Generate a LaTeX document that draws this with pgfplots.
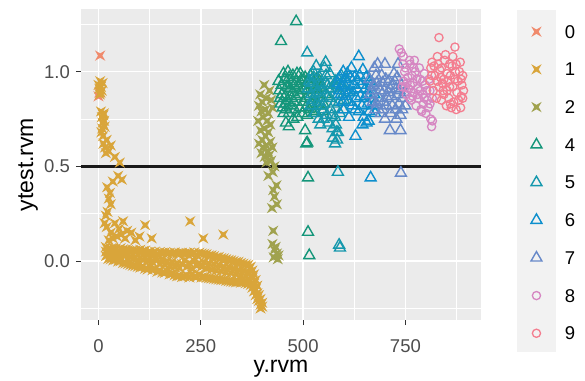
\documentclass[border=0pt]{standalone}
\usepackage{fontspec}
\setmainfont{Liberation Sans}
\usepackage{pgfplots}
\pgfplotsset{compat=1.18}
\definecolor{cA}{HTML}{F08A6C}
\definecolor{cB}{HTML}{D9A53A}
\definecolor{cC}{HTML}{A0A24E}
\definecolor{cE}{HTML}{14967A}
\definecolor{cF}{HTML}{1598AD}
\definecolor{cG}{HTML}{0D8FCD}
\definecolor{cH}{HTML}{6789C9}
\definecolor{cI}{HTML}{D686C2}
\definecolor{cJ}{HTML}{F47D8F}
\definecolor{panel}{HTML}{EBEBEB}
\definecolor{keybg}{HTML}{F2F2F2}
\definecolor{tickcol}{HTML}{4D4D4D}
\definecolor{tickline}{HTML}{333333}
\pgfdeclareplotmark{xstar}{%
 \pgfpathmoveto{\pgfqpoint{\pgfplotmarksize}{\pgfplotmarksize}}%
 \pgfpathlineto{\pgfqpoint{0pt}{0.42\pgfplotmarksize}}%
 \pgfpathlineto{\pgfqpoint{-\pgfplotmarksize}{\pgfplotmarksize}}%
 \pgfpathlineto{\pgfqpoint{-0.42\pgfplotmarksize}{0pt}}%
 \pgfpathlineto{\pgfqpoint{-\pgfplotmarksize}{-\pgfplotmarksize}}%
 \pgfpathlineto{\pgfqpoint{0pt}{-0.42\pgfplotmarksize}}%
 \pgfpathlineto{\pgfqpoint{\pgfplotmarksize}{-\pgfplotmarksize}}%
 \pgfpathlineto{\pgfqpoint{0.42\pgfplotmarksize}{0pt}}%
 \pgfpathclose\pgfusepathqfill}
\begin{document}
\begin{tikzpicture}
\useasboundingbox (0,0) rectangle (585bp,381bp);
\fill[keybg] (517bp,29bp) rectangle (556bp,371bp);
\begin{axis}[
  at={(81bp,61bp)}, anchor=south west,
  scale only axis, width=400bp, height=311bp,
  xmin=-42.8, xmax=934.7, ymin=-0.311, ymax=1.331,
  axis background/.style={fill=panel},
  axis line style={draw=none},
  xtick={0,250,500,750}, xticklabels={0,250,500,750},
  ytick={0,0.5,1}, yticklabels={0.0,0.5,1.0},
  minor xtick={125,375,625,875}, minor ytick={-0.25,0.25,0.75,1.25},
  grid=both,
  major grid style={white, line width=1.4bp},
  minor grid style={white, line width=0.7bp},
  tick align=outside, xtick pos=bottom, ytick pos=left,
  major tick length=5bp, minor tick length=0bp,
  tick style={tickline, line width=1.1bp},
  tick label style={font=\fontsize{18.5bp}{20bp}\selectfont, text=tickcol},
  xticklabel style={anchor=base, inner sep=0pt, yshift=-27bp},
  yticklabel style={anchor=east, inner sep=0pt, xshift=-6bp},
  label style={font=\fontsize{23bp}{26bp}\selectfont, text=black},
  xlabel={y.rvm}, ylabel={ytest.rvm},
  xlabel style={at={(axis description cs:0.5,-0.1704)}, anchor=base},
  ylabel style={at={(axis description cs:-0.12,0.5)}, anchor=base},
  legend image code/.code={\draw[#1] plot coordinates {(0bp,0bp)};},
  legend cell align=left,
  legend style={draw=none, fill=none, inner sep=0pt, outer sep=0pt,
    at={(axis description cs:1.125,0.948)}, anchor=north west,
    row sep=24.7bp, column sep=23bp,
    font=\fontsize{18.5bp}{20bp}\selectfont,
    nodes={inner sep=0pt, text height=13bp, text depth=0bp}},
  star/.style={only marks, mark=xstar, mark size=5.2bp},
  tri/.style={only marks, mark=triangle, mark size=6.3bp, mark options={line width=1.4bp}},
  circ/.style={only marks, mark=o, mark size=4.1bp, mark options={line width=1.3bp}},
]
% class 0
\addplot[star, color=cA] coordinates {(4,1.085) (0,0.87) (2,0.89)};
% class 1
\addplot[star, color=cB] coordinates {
(0,0.93) (2,0.91) (4,0.95) (6,0.92) (8,0.90) (3,0.88) (10,0.94) (5,0.89)
(6,0.79) (8,0.76) (10,0.73) (12,0.77) (9,0.70) (14,0.74) (7,0.68) (11,0.66) (15,0.71) (13,0.78)
(12,0.62) (16,0.60) (20,0.64) (25,0.58) (30,0.61) (18,0.57) (52,0.52) (40,0.55)
(35,0.42) (57,0.43) (48,0.45) (21,0.39) (28,0.36) (25,0.33) (30,0.30) (22,0.26) (18,0.24) (15,0.20)
(20,0.18) (30,0.15) (40,0.20) (50,0.17) (60,0.21) (45,0.13) (35,0.12) (25,0.11) (55,0.14)
(70,0.16) (65,0.12) (80,0.15) (100,0.13) (114,0.19) (90,0.11) (130,0.12)
(224,0.21) (256,0.12) (305,0.14)
(18,0.074) (18,0.026) (18,0.050) (24,0.012) (24,0.060) (24,0.036)
(30,0.066) (30,0.010) (30,0.044) (36,0.050) (36,0.004) (36,0.070)
(42,0.007) (42,0.066) (42,0.030) (48,0.054) (48,-0.002) (48,0.036)
(54,0.068) (54,0.000) (54,0.020) (60,0.050) (60,-0.010) (60,0.062)
(66,-0.012) (66,0.060) (66,0.030) (72,0.058) (72,-0.016) (72,0.004)
(78,0.050) (78,-0.020) (78,0.024) (84,-0.024) (84,0.058) (84,0.010)
(90,0.056) (90,-0.026) (90,0.020) (96,0.000) (96,0.054) (96,-0.030)
(102,0.060) (102,-0.034) (102,0.018) (108,-0.030) (108,0.052) (108,0.006)
(114,0.056) (114,-0.040) (114,0.020) (120,-0.044) (120,0.046) (120,0.000)
(126,0.050) (126,-0.030) (126,0.016) (132,-0.048) (132,0.040) (132,-0.006)
(138,0.050) (138,-0.040) (138,0.012) (144,-0.056) (144,0.036) (144,0.006)
(150,0.048) (150,-0.050) (150,-0.016) (156,-0.060) (156,0.044) (156,0.010)
(162,0.046) (162,-0.062) (162,-0.020) (168,-0.054) (168,0.040) (168,0.000)
(174,0.044) (174,-0.070) (174,-0.024) (180,-0.066) (180,0.040) (180,-0.004)
(186,0.046) (186,-0.074) (186,-0.030) (192,-0.080) (192,0.040) (192,-0.010)
(198,0.042) (198,-0.078) (198,-0.036) (204,-0.084) (204,0.044) (204,-0.016)
(210,0.040) (210,-0.080) (210,0.004) (216,-0.076) (216,0.042) (216,-0.030)
(222,0.044) (222,-0.086) (222,-0.010) (228,-0.070) (228,0.036) (228,-0.040)
(234,0.046) (234,-0.082) (234,0.000) (240,-0.084) (240,0.030) (240,-0.024)
(246,0.044) (246,-0.070) (246,-0.010) (252,-0.086) (252,0.040) (252,-0.030)
(258,0.038) (258,-0.084) (258,-0.006) (264,-0.088) (264,0.036) (264,-0.040)
(270,0.030) (270,-0.090) (270,-0.012) (276,-0.092) (276,0.030) (276,-0.046)
(282,0.026) (282,-0.094) (282,-0.016) (288,-0.096) (288,0.020) (288,-0.050)
(294,0.022) (294,-0.098) (294,-0.020) (300,-0.100) (300,0.016) (300,-0.054)
(306,0.014) (306,-0.100) (306,-0.030) (312,-0.104) (312,0.010) (312,-0.060)
(318,0.006) (318,-0.106) (318,-0.030) (324,-0.108) (324,0.004) (324,-0.064)
(330,0.000) (330,-0.110) (330,-0.040) (336,-0.112) (336,-0.004) (336,-0.070)
(342,-0.004) (342,-0.110) (342,-0.046) (348,-0.114) (348,-0.010) (348,-0.076)
(354,-0.014) (354,-0.110) (354,-0.050) (360,-0.116) (360,-0.018) (360,-0.080)
(366,-0.020) (366,-0.120) (366,-0.060) (372,-0.030) (372,-0.126) (372,-0.080)
(376,-0.09) (376,-0.14) (376,-0.05) (380,-0.12) (380,-0.16) (380,-0.07)
(384,-0.15) (384,-0.10) (384,-0.18) (388,-0.17) (388,-0.20) (388,-0.13)
(392,-0.21) (392,-0.18) (396,-0.23) (396,-0.25) (396,-0.20) (400,-0.24) (400,-0.22)
};
% class 2
\addplot[star, color=cC] coordinates {
(405,0.93) (418,0.90) (395,0.88) (410,0.86) (400,0.84) (422,0.85) (392,0.82) (408,0.80)
(415,0.78) (398,0.79) (425,0.81) (402,0.76) (412,0.74) (390,0.74) (420,0.72) (405,0.70)
(396,0.69) (415,0.68) (408,0.66) (400,0.64) (420,0.63) (392,0.62) (410,0.61) (402,0.60)
(425,0.60) (414,0.58) (398,0.57) (418,0.56) (406,0.55) (422,0.53) (410,0.52) (430,0.50)
(426,0.47) (415,0.45) (435,0.40) (427,0.375) (436,0.30) (430,0.34) (424,0.28)
(427,0.16) (425,0.09) (430,0.06) (436,0.04) (428,0.02) (440,0.03) (433,0.075) (438,0.01)
};
% class 4
\addplot[tri, color=cE] coordinates {
(440,0.95) (448,0.88) (452,0.99) (460,0.92) (445,0.83) (466,0.97) (472,0.86) (458,0.80)
(478,0.93) (485,0.99) (490,0.88) (480,0.80) (495,0.94) (500,0.84) (505,0.97) (510,0.90)
(515,0.80) (520,0.93) (526,0.86) (532,0.96) (538,0.88) (545,0.92) (550,0.83) (468,0.91)
(455,0.96) (475,0.98) (488,0.92) (498,0.78) (508,0.86) (518,0.98) (528,0.91) (462,0.85)
(442,0.90) (470,0.82) (482,0.87) (492,0.81) (503,0.91) (512,0.95) (522,0.83) (535,0.82)
(540,0.95) (448,0.93) (456,0.87) (486,0.76) (496,0.96) (510,0.77) (525,0.78) (542,0.86)
(555,0.88) (465,0.78) (476,0.75) (530,0.79)
(444,0.86) (452,0.78) (463,1.00) (470,0.94) (478,0.84) (484,0.95) (493,0.99) (500,0.90)
(506,0.81) (516,0.87) (522,0.96) (534,0.91) (548,0.79) (458,0.83) (474,0.89)
(483,1.265) (446,1.16) (450,0.81) (458,0.73) (465,0.71) (505,0.69) (508,0.62) (510,0.625)
(512,0.44) (512,0.153) (515,0.03)
};
% class 5
\addplot[tri, color=cF] coordinates {
(515,0.95) (520,0.88) (525,1.00) (530,0.92) (535,0.84) (540,0.97) (545,0.90) (550,0.80)
(555,0.94) (560,0.87) (565,0.99) (570,0.91) (575,0.83) (580,0.95) (585,0.88) (590,0.78)
(595,0.92) (600,0.85) (605,0.96) (518,0.82) (528,0.78) (538,0.75) (548,0.86) (558,0.77)
(568,0.80) (578,0.76) (588,0.84) (598,0.80) (532,1.03) (552,1.02) (562,0.73) (572,0.70)
(582,0.68) (542,0.72) (610,0.89) (523,0.94) (543,0.93) (563,0.91) (583,0.92) (593,0.98)
(512,0.91) (522,0.85) (534,0.89) (546,0.82) (556,0.98) (566,0.86) (576,0.93) (586,0.96)
(596,0.87) (604,0.90) (526,0.97) (550,0.75) (570,0.77) (580,0.72) (560,0.93)
(510,1.10) (555,1.05) (585,0.68) (583,0.64) (573,0.65) (578,0.62) (585,0.47) (588,0.085) (590,0.07)
};
% class 6
\addplot[tri, color=cG] coordinates {
(585,0.94) (592,0.88) (598,1.00) (604,0.92) (610,0.84) (616,0.97) (622,0.89) (628,0.80)
(634,0.95) (640,0.87) (646,1.01) (652,0.91) (658,0.83) (664,0.95) (670,0.86) (676,0.78)
(600,0.80) (612,0.76) (624,0.93) (636,0.79) (648,0.76) (660,0.74) (590,0.97) (618,1.02)
(630,0.86) (642,0.93) (654,0.97) (666,0.90) (606,0.87) (672,0.82) (596,0.84)
(588,0.90) (594,0.93) (602,0.96) (614,0.90) (620,0.82) (632,0.91) (638,0.98) (644,0.82)
(650,0.86) (662,0.79) (668,0.94) (674,0.88) (608,0.99) (626,0.97) (656,0.88)
(636,1.08) (628,0.66) (655,0.73) (645,0.72) (665,0.44)
};
% class 7
\addplot[tri, color=cH] coordinates {
(662,0.96) (668,0.90) (674,1.02) (680,0.94) (686,0.86) (692,0.98) (698,0.90) (704,0.82)
(710,0.95) (716,0.87) (722,0.99) (728,0.91) (734,0.83) (740,0.93) (676,0.80) (690,0.78)
(702,0.96) (714,0.78) (726,0.80) (738,0.77) (684,0.92) (696,0.84) (708,0.89) (720,0.93)
(732,0.88) (744,0.86) (670,0.84) (750,0.82)
(664,0.88) (672,0.93) (678,0.98) (688,0.90) (694,0.94) (706,0.86) (712,0.91) (718,0.82)
(724,0.95) (736,0.90) (742,0.80) (748,0.89) (680,0.83) (730,0.97) (694,0.80)
(682,1.04) (700,1.04) (732,1.04) (700,0.75) (712,0.69) (728,0.75) (738,0.69) (739,0.465)
};
% class 8
\addplot[circ, color=cI] coordinates {
(740,1.10) (745,1.08) (750,1.02) (756,0.97) (762,1.04) (768,0.94) (774,1.00) (780,0.91)
(786,0.96) (792,0.88) (798,0.93) (804,0.85) (810,0.90) (745,0.95) (752,0.88) (758,0.91)
(764,0.85) (770,0.89) (776,0.82) (782,0.86) (788,0.80) (794,0.83) (800,0.78) (806,0.81)
(812,0.75) (816,0.86) (748,1.00) (760,1.06) (772,1.06) (784,1.02) (796,0.99) (808,0.96)
(742,0.92) (766,0.98)
(744,1.04) (754,0.94) (762,0.93) (770,1.02) (778,0.96) (786,0.90) (792,0.95) (802,0.90)
(810,0.83) (750,0.92) (768,0.87) (780,0.88) (796,0.86)
(735,1.12) (790,0.79) (816,0.74) (814,0.71) (760,0.86)
};
% class 9
\addplot[circ, color=cJ] coordinates {
(815,1.05) (822,0.98) (828,1.08) (834,1.01) (840,0.94) (846,1.06) (852,0.99) (858,0.92)
(864,1.03) (870,0.96) (876,0.89) (882,1.00) (888,0.93) (810,0.95) (818,0.90) (826,0.86)
(832,0.92) (838,0.85) (844,0.88) (850,0.82) (856,0.86) (862,0.81) (868,0.84) (874,0.80)
(880,0.85) (886,0.87) (892,0.90) (812,1.02) (830,1.04) (848,1.09) (866,1.08) (884,1.05)
(890,0.98) (836,0.97) (854,0.95) (872,1.00)
(814,0.98) (820,1.03) (828,0.95) (838,1.02) (844,0.96) (852,0.90) (860,0.98) (866,0.92)
(878,0.95) (886,0.96) (842,0.90) (858,1.04) (874,1.04) (890,0.86)
(832,1.18) (871,1.13) (860,0.83) (885,0.81)
};
\addplot[forget plot, color=black!90, line width=3.5bp] coordinates {(-42.8,0.5) (934.7,0.5)};
\legend{0,1,2,4,5,6,7,8,9}
\end{axis}
\end{tikzpicture}
\end{document}
